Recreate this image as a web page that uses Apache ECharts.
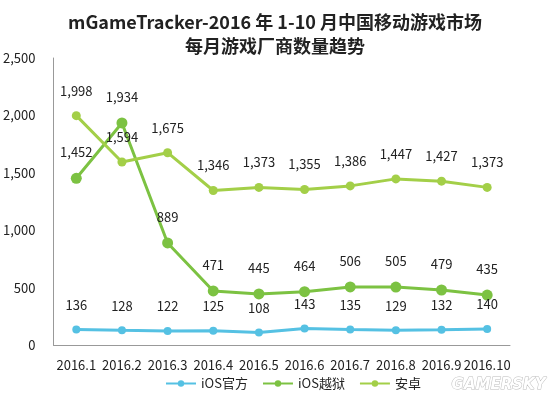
<!DOCTYPE html>
<html><head><meta charset="utf-8">
<script src="https://cdn.jsdelivr.net/npm/echarts@6/dist/echarts.min.js"></script>
<style>html,body{margin:0;padding:0;background:#fff}#c{width:550px;height:399px}</style>
</head><body><div id="c"></div>
<script>
const categories = ['2016.1','2016.2','2016.3','2016.4','2016.5','2016.6','2016.7','2016.8','2016.9','2016.10'];
const iosOfficial = [136,128,122,125,108,143,135,129,132,140];
const iosJailbreak = [1452,1934,889,471,445,464,506,505,479,435];
const android = [1998,1594,1675,1346,1373,1355,1386,1447,1427,1373];
const yTicks = [0,500,1000,1500,2000,2500];

const font = '"Noto Sans CJK SC","Noto Sans",sans-serif';
const fmt = v => v.toLocaleString('en-US');
const chart = echarts.init(document.getElementById('c'));
function s(name, data, color, size){
  return {name, type:'line', data, color, symbol:'circle', symbolSize:size,
    lineStyle:{width:3,color}, itemStyle:{color},
    label:{show:true, position:'top', distance:14, color:'#222', fontSize:13, fontFamily:font,
      formatter:p=>fmt(p.value)}};
}
chart.setOption({
  animation:false,
  title:{text:'mGameTracker-2016 年 1-10 月中国移动游戏市场\n每月游戏厂商数量趋势', left:'center', top:5,
    textStyle:{fontSize:18, fontWeight:'bold', color:'#222', fontFamily:font, lineHeight:24}},
  grid:{left:53, right:40, top:58, bottom:54},
  legend:{bottom:4, left:160, itemWidth:30, itemHeight:8, itemGap:14,
    textStyle:{fontSize:13, color:'#222', fontFamily:font}},
  xAxis:{type:'category', data:categories, boundaryGap:true,
    axisLine:{lineStyle:{color:'#999'}}, axisTick:{show:false},
    axisLabel:{color:'#222', fontSize:13, fontFamily:font, margin:14, interval:0}},
  yAxis:{type:'value', min:yTicks[0], max:yTicks[yTicks.length-1], interval:500,
    axisLine:{show:true, lineStyle:{color:'#999'}}, axisTick:{show:false}, splitLine:{show:false},
    axisLabel:{color:'#222', fontSize:13, fontFamily:font, margin:18, formatter:v=>fmt(v)}},
  series:[
    s('iOS官方', iosOfficial, '#55c1e3', 8),
    s('iOS越狱', iosJailbreak, '#7cc242', 11),
    s('安卓', android, '#a3cf48', 9)
  ],
  graphic:[{type:'text', right:4, bottom:6, style:{text:'GAMERSKY', fontSize:15, fontWeight:'bold', fontStyle:'italic',
    fill:'#fff', stroke:'#bbb', lineWidth:1, fontFamily:'DejaVu Sans'}}]
});
</script></body></html>
